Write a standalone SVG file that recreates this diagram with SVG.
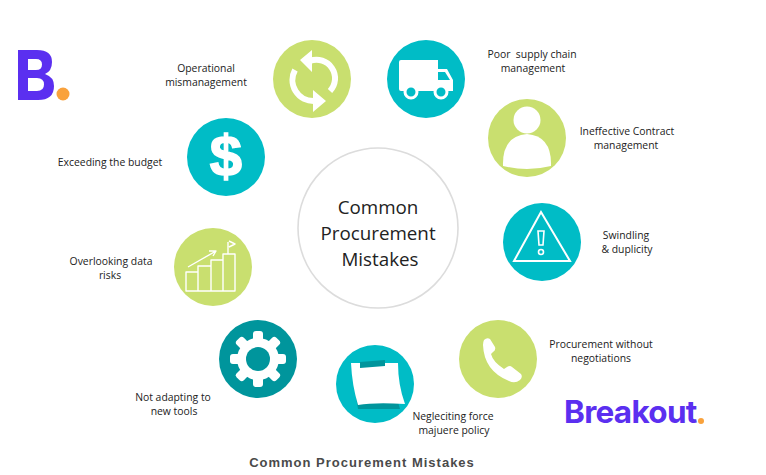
<svg xmlns="http://www.w3.org/2000/svg" width="766" height="475" viewBox="0 0 766 475">
<style>
text{font-family:"Open Sans","Noto Sans",sans-serif;fill:#222;text-anchor:middle}
.l{font-size:10.4px}
.c{font-size:18.8px;fill:#222}
.g{fill:#c9df6f}.t{fill:#00bcc6}.d{fill:#00959c}
.w{fill:#fff}
.o{fill:none;stroke:#fff;stroke-width:1.4;stroke-linejoin:round}
</style>
<rect width="766" height="475" fill="#fff"/>
<g id="connectors"/>
<g id="logo-b"><path fill="#5b2ff0" fill-rule="evenodd" d="M18 50H37Q52 50 52 62Q52 71 45 74Q54 77 54 86Q54 100 38 100H18ZM28 59V70H36Q42 70 42 64.500Q42 59 36 59ZM28 78V91H37Q44 91 44 84.500Q44 78 37 78Z"/><circle cx="63" cy="94" r="6.500" fill="#f9a23c"/></g>
<g id="center"><circle cx="378" cy="228" r="80" fill="#fff" stroke="#dcdcdc" stroke-width="1.600"/>
<text class="c" x="378" y="214">Common</text><text class="c" x="378" y="240">Procurement</text><text class="c" x="380" y="266">Mistakes</text></g>
<g id="operational"><circle class="g" cx="312" cy="79" r="39"/>
<path d="M310 61A18.500 18.500 0 0 1 330 91" fill="none" stroke="#fff" stroke-width="6"/>
<path d="M314 101A21 21 0 0 1 295 70" fill="none" stroke="#fff" stroke-width="6"/>
<path class="w" d="M312 50V72L300 60ZM313 90V112L326 101Z"/>
<text class="l" x="206" y="72">Operational</text><text class="l" x="206" y="86">mismanagement</text></g>
<g id="supply"><circle class="t" cx="426" cy="79" r="39"/>
<path class="w" d="M401 60H438V69H447L453 80V91H401Q399 91 399 89V62Q399 60 401 60Z"/>
<path class="t" d="M438 72H445L450 80H438Z"/>
<circle class="t" cx="411" cy="92" r="6" stroke="#fff" stroke-width="3"/><circle class="t" cx="441" cy="92" r="6" stroke="#fff" stroke-width="3"/>
<text class="l" x="532" y="58">Poor&#160; supply chain</text><text class="l" x="533" y="72">management</text></g>
<g id="contract"><circle class="g" cx="527" cy="138" r="39"/>
<circle class="w" cx="527" cy="120" r="13.500"/>
<path class="w" d="M503 166Q502 136 527 134Q552 136 551 166Q527 172 503 166Z"/>
<text class="l" x="627" y="135">Ineffective Contract</text><text class="l" x="626" y="149">management</text></g>
<g id="budget"><circle class="t" cx="226" cy="157" r="39"/>
<text x="226" y="176" style="font-family:'Liberation Sans',sans-serif;font-size:58px;font-weight:700;fill:#fff;stroke:#fff;stroke-width:1.500">$</text>
<text class="l" x="110" y="166">Exceeding the budget</text></g>
<g id="swindling"><circle class="t" cx="542" cy="242" r="39"/>
<path d="M541 212L570 261H514Z" fill="none" stroke="#fff" stroke-width="2"/>
<path d="M538 231H544L543 245H539Z" fill="none" stroke="#fff" stroke-width="1.600"/><circle cx="541" cy="252" r="2.500" fill="none" stroke="#fff" stroke-width="1.600"/>
<text class="l" x="626" y="239">Swindling</text><text class="l" x="627" y="253">&amp; duplicity</text></g>
<g id="data"><circle class="g" cx="213" cy="267" r="39"/>
<path class="o" d="M186 272H198V291H186ZM198 266H211V291H198ZM211 260H223V291H211ZM223 254H235V291H223ZM228 254V242M229 241L235 244L229 247M188 267L216 251M209 251L216 251L213 256"/>
<text class="l" x="111" y="265">Overlooking data</text><text class="l" x="110" y="279">risks</text></g>
<g id="tools"><circle class="d" cx="258" cy="359" r="39"/>
<g fill="#fff"><circle cx="258" cy="359" r="21"/>
<rect x="253" y="331" width="10" height="56" rx="3"/><rect x="253" y="331" width="10" height="56" rx="3" transform="rotate(45 258 359)"/><rect x="253" y="331" width="10" height="56" rx="3" transform="rotate(90 258 359)"/><rect x="253" y="331" width="10" height="56" rx="3" transform="rotate(135 258 359)"/></g>
<circle class="d" cx="258" cy="359" r="12"/>
<text class="l" x="173" y="401">Not adapting to</text><text class="l" x="174" y="415">new tools</text></g>
<g id="force"><circle class="t" cx="375" cy="384" r="39"/>
<path class="d" d="M354 385L358 409H400L398 402Z"/>
<path class="w" d="M351 363L398 363Q398 385 405 404Q375 402 358 405Q352 385 351 363Z"/>
<path class="d" d="M360 362L385 360V366L360 368Z"/>
<text class="l" x="453" y="420">Negleciting force</text><text class="l" x="454" y="434">majuere policy</text></g>
<g id="negotiations"><circle class="g" cx="498" cy="359" r="39"/>
<path class="w" d="M484 340Q487 337 490 339L495 347Q496 350 493 352L491 354Q493 362 504 369L507 367Q510 365 512 367L521 374Q523 377 520 380Q515 384 509 381Q484 371 483 345Q483 342 484 340Z"/>
<text class="l" x="601" y="348">Procurement without</text><text class="l" x="601" y="362">negotiations</text></g>
<g id="logo-breakout"><text x="564" y="423" style="font-family:'Inter','Liberation Sans',sans-serif;font-size:31.500px;font-weight:700;letter-spacing:-.7px;fill:#5b2ff0;text-anchor:start">Breakout</text><circle cx="701" cy="421" r="3" fill="#f9a23c"/></g>
<text id="caption" x="362" y="467" style="font-family:'Liberation Sans',sans-serif;font-size:13px;font-weight:700;letter-spacing:1px;fill:#4a4a4a">Common Procurement Mistakes</text>
</svg>
